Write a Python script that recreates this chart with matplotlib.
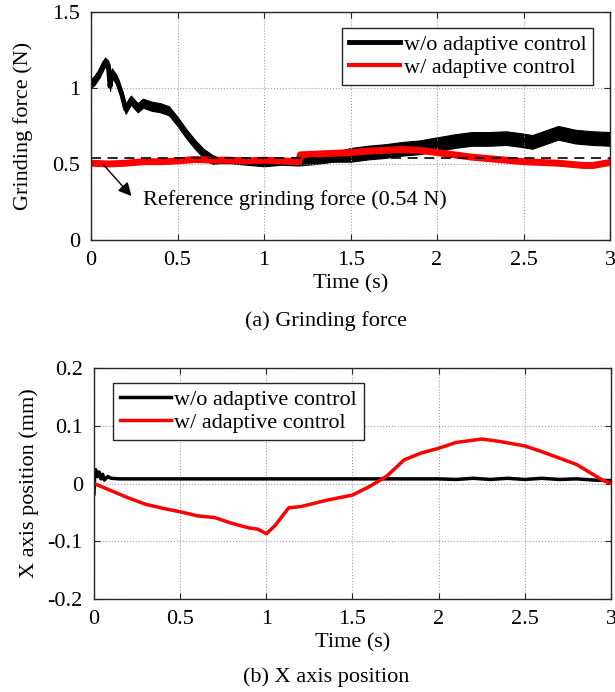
import matplotlib
matplotlib.use("Agg")
import matplotlib.pyplot as plt
import numpy as np

plt.rcParams["font.family"] = ["Liberation Serif", "DejaVu Serif"]
plt.rcParams["font.size"] = 16
plt.rcParams["axes.linewidth"] = 1.0

# (a) grinding force, w/o adaptive control: band centre and half width
t_fo = [0, 0.02, 0.05, 0.08, 0.10, 0.11, 0.12, 0.15, 0.18, 0.20, 0.23, 0.27, 0.30,
        0.35, 0.40, 0.45, 0.50, 0.55, 0.60, 0.65, 0.70, 0.75, 0.80, 0.90, 1.00,
        1.10, 1.20, 1.30, 1.40, 1.50, 1.60, 1.70, 1.80, 1.90, 2.00, 2.10, 2.20,
        2.30, 2.40, 2.50, 2.55, 2.60, 2.70, 2.80, 2.90, 3.00]
f_fo = [1.03, 1.05, 1.10, 1.17, 1.15, 1.01, 1.10, 1.05, 0.95, 0.86, 0.92, 0.87, 0.90,
        0.88, 0.87, 0.85, 0.78, 0.70, 0.63, 0.57, 0.53, 0.52, 0.52, 0.51, 0.50,
        0.51, 0.52, 0.53, 0.545, 0.56, 0.575, 0.585, 0.60, 0.61, 0.63, 0.65, 0.665,
        0.665, 0.67, 0.655, 0.645, 0.665, 0.705, 0.68, 0.67, 0.665]
w_fo = [0.03] * 21 + [0.015] * 5 + [0.03] * 3 + [0.045] * 17

# (a) grinding force, w/ adaptive control
t_fa = [0, 0.1, 0.2, 0.3, 0.4, 0.5, 0.6, 0.7, 0.8, 0.9, 1.0, 1.1, 1.2, 1.21, 1.3,
        1.4, 1.5, 1.6, 1.7, 1.8, 1.9, 2.0, 2.1, 2.2, 2.3, 2.4, 2.5, 2.6, 2.7, 2.8,
        2.85, 2.9, 2.95, 3.0]
f_fa = [0.505, 0.50, 0.505, 0.515, 0.515, 0.52, 0.53, 0.525, 0.525, 0.52, 0.525,
        0.52, 0.515, 0.56, 0.565, 0.57, 0.575, 0.585, 0.59, 0.595, 0.59, 0.575,
        0.56, 0.545, 0.535, 0.525, 0.515, 0.51, 0.505, 0.495, 0.49, 0.49, 0.50, 0.51]
f_ref = 0.54

# (b) X axis position
t_xo = [0, 0.005, 0.01, 0.02, 0.03, 0.04, 0.05, 0.06, 0.08, 0.10, 0.15, 0.5, 1.0,
        1.5, 2.0, 2.1, 2.2, 2.3, 2.4, 2.5, 2.6, 2.7, 2.8, 2.9, 3.0]
x_xo = [-0.018, 0.02, 0.024, 0.012, 0.02, 0.008, 0.016, 0.006, 0.012, 0.009, 0.008,
        0.008, 0.008, 0.008, 0.008, 0.007, 0.009, 0.007, 0.009, 0.007, 0.009, 0.007,
        0.008, 0.006, 0.005]

t_xa = [0, 0.2, 0.3, 0.4, 0.5, 0.6, 0.7, 0.8, 0.9, 0.95, 1.0, 1.05, 1.13, 1.2, 1.35,
        1.5, 1.6, 1.7, 1.8, 1.9, 2.0, 2.1, 2.2, 2.25, 2.35, 2.5, 2.6, 2.7, 2.8, 2.9,
        2.95, 3.0]
x_xa = [0, -0.025, -0.036, -0.043, -0.049, -0.056, -0.059, -0.069, -0.077, -0.079,
        -0.087, -0.073, -0.042, -0.040, -0.029, -0.020, -0.005, 0.013, 0.041, 0.053,
        0.061, 0.071, 0.075, 0.077, 0.073, 0.065, 0.055, 0.044, 0.033, 0.015, 0.006, 0]

xticks = [0, 0.5, 1, 1.5, 2, 2.5, 3]
xticklabels = ["0", "0.5", "1", "1.5", "2", "2.5", "3"]

fig = plt.figure(figsize=(6.15, 6.92), dpi=100)
ax1 = fig.add_axes([0.148, 0.6532, 0.844, 0.3295])
ax2 = fig.add_axes([0.1528, 0.1344, 0.8407, 0.3338])

edge = "#262626"
for ax in (ax1, ax2):
    ax.set_xlim(0, 3)
    ax.set_xticks(xticks)
    ax.set_xticklabels(xticklabels)
    ax.grid(True, linestyle=":", color="#a0a0a0", linewidth=0.8)
    ax.tick_params(direction="in", top=True, right=True, length=4, colors=edge,
                   labelcolor="black")
    ax.tick_params(axis="x", pad=8)
    ax.tick_params(axis="y", pad=8)
    for s in ax.spines.values():
        s.set_color(edge)
    ax.set_xlabel("Time (s)", labelpad=3)

# top panel
t_fo = np.array(t_fo)
f_fo = np.array(f_fo)
w_fo = np.array(w_fo)
ax1.fill_between(t_fo, f_fo - w_fo, f_fo + w_fo, color="black", linewidth=0.8)
ax1.plot(t_fo, f_fo, color="black", lw=3.5, label="w/o adaptive control")
ax1.plot(t_fa, f_fa, color="red", lw=5, label="w/ adaptive control")
ax1.plot([0, 3], [f_ref, f_ref], color="black", lw=1.2, ls=(0, (6, 4)))
ax1.set_ylim(0, 1.5)
ax1.set_yticks([0, 0.5, 1, 1.5])
ax1.set_yticklabels(["0", "0.5", "1", "1.5"])
ax1.set_ylabel("Grinding force (N)", labelpad=14)
ax1.annotate("", xy=(0.245, 0.275), xytext=(0.06, 0.51),
             arrowprops=dict(arrowstyle="-|>", color="black", lw=1, mutation_scale=20))
ax1.text(0.30, 0.263, "Reference grinding force (0.54 N)", va="center", ha="left")
leg1 = ax1.legend(loc="upper right", bbox_to_anchor=(0.967, 0.93), borderaxespad=0,
                  fancybox=False, edgecolor=edge, framealpha=1, handlelength=2.3,
                  handletextpad=0.15, labelspacing=0.1, borderpad=0.3)
leg1.get_frame().set_linewidth(1.0)
leg1.get_lines()[0].set_linewidth(3.5)
leg1.get_lines()[1].set_linewidth(3)

# bottom panel
ax2.plot(t_xo, x_xo, color="black", lw=2.5, label="w/o adaptive control")
ax2.plot(t_xa, x_xa, color="red", lw=2.5, label="w/ adaptive control")
ax2.set_ylim(-0.2, 0.2)
ax2.set_yticks([-0.2, -0.1, 0, 0.1, 0.2])
ax2.set_yticklabels(["-0.2", "-0.1", "0", "0.1", "0.2"])
ax2.set_ylabel("X axis position (mm)", labelpad=6)
leg2 = ax2.legend(loc="upper left", bbox_to_anchor=(0.037, 0.935), borderaxespad=0,
                  fancybox=False, edgecolor=edge, framealpha=1, handlelength=2.3,
                  handletextpad=0.15, labelspacing=0.1, borderpad=0.3)
leg2.get_frame().set_linewidth(1.0)

fig.text(0.53, 1 - 321 / 692, "(a) Grinding force", ha="center", va="center")
fig.text(0.53, 1 - 677 / 692, "(b) X axis position", ha="center", va="center")

fig.savefig("out.png", dpi=100)
